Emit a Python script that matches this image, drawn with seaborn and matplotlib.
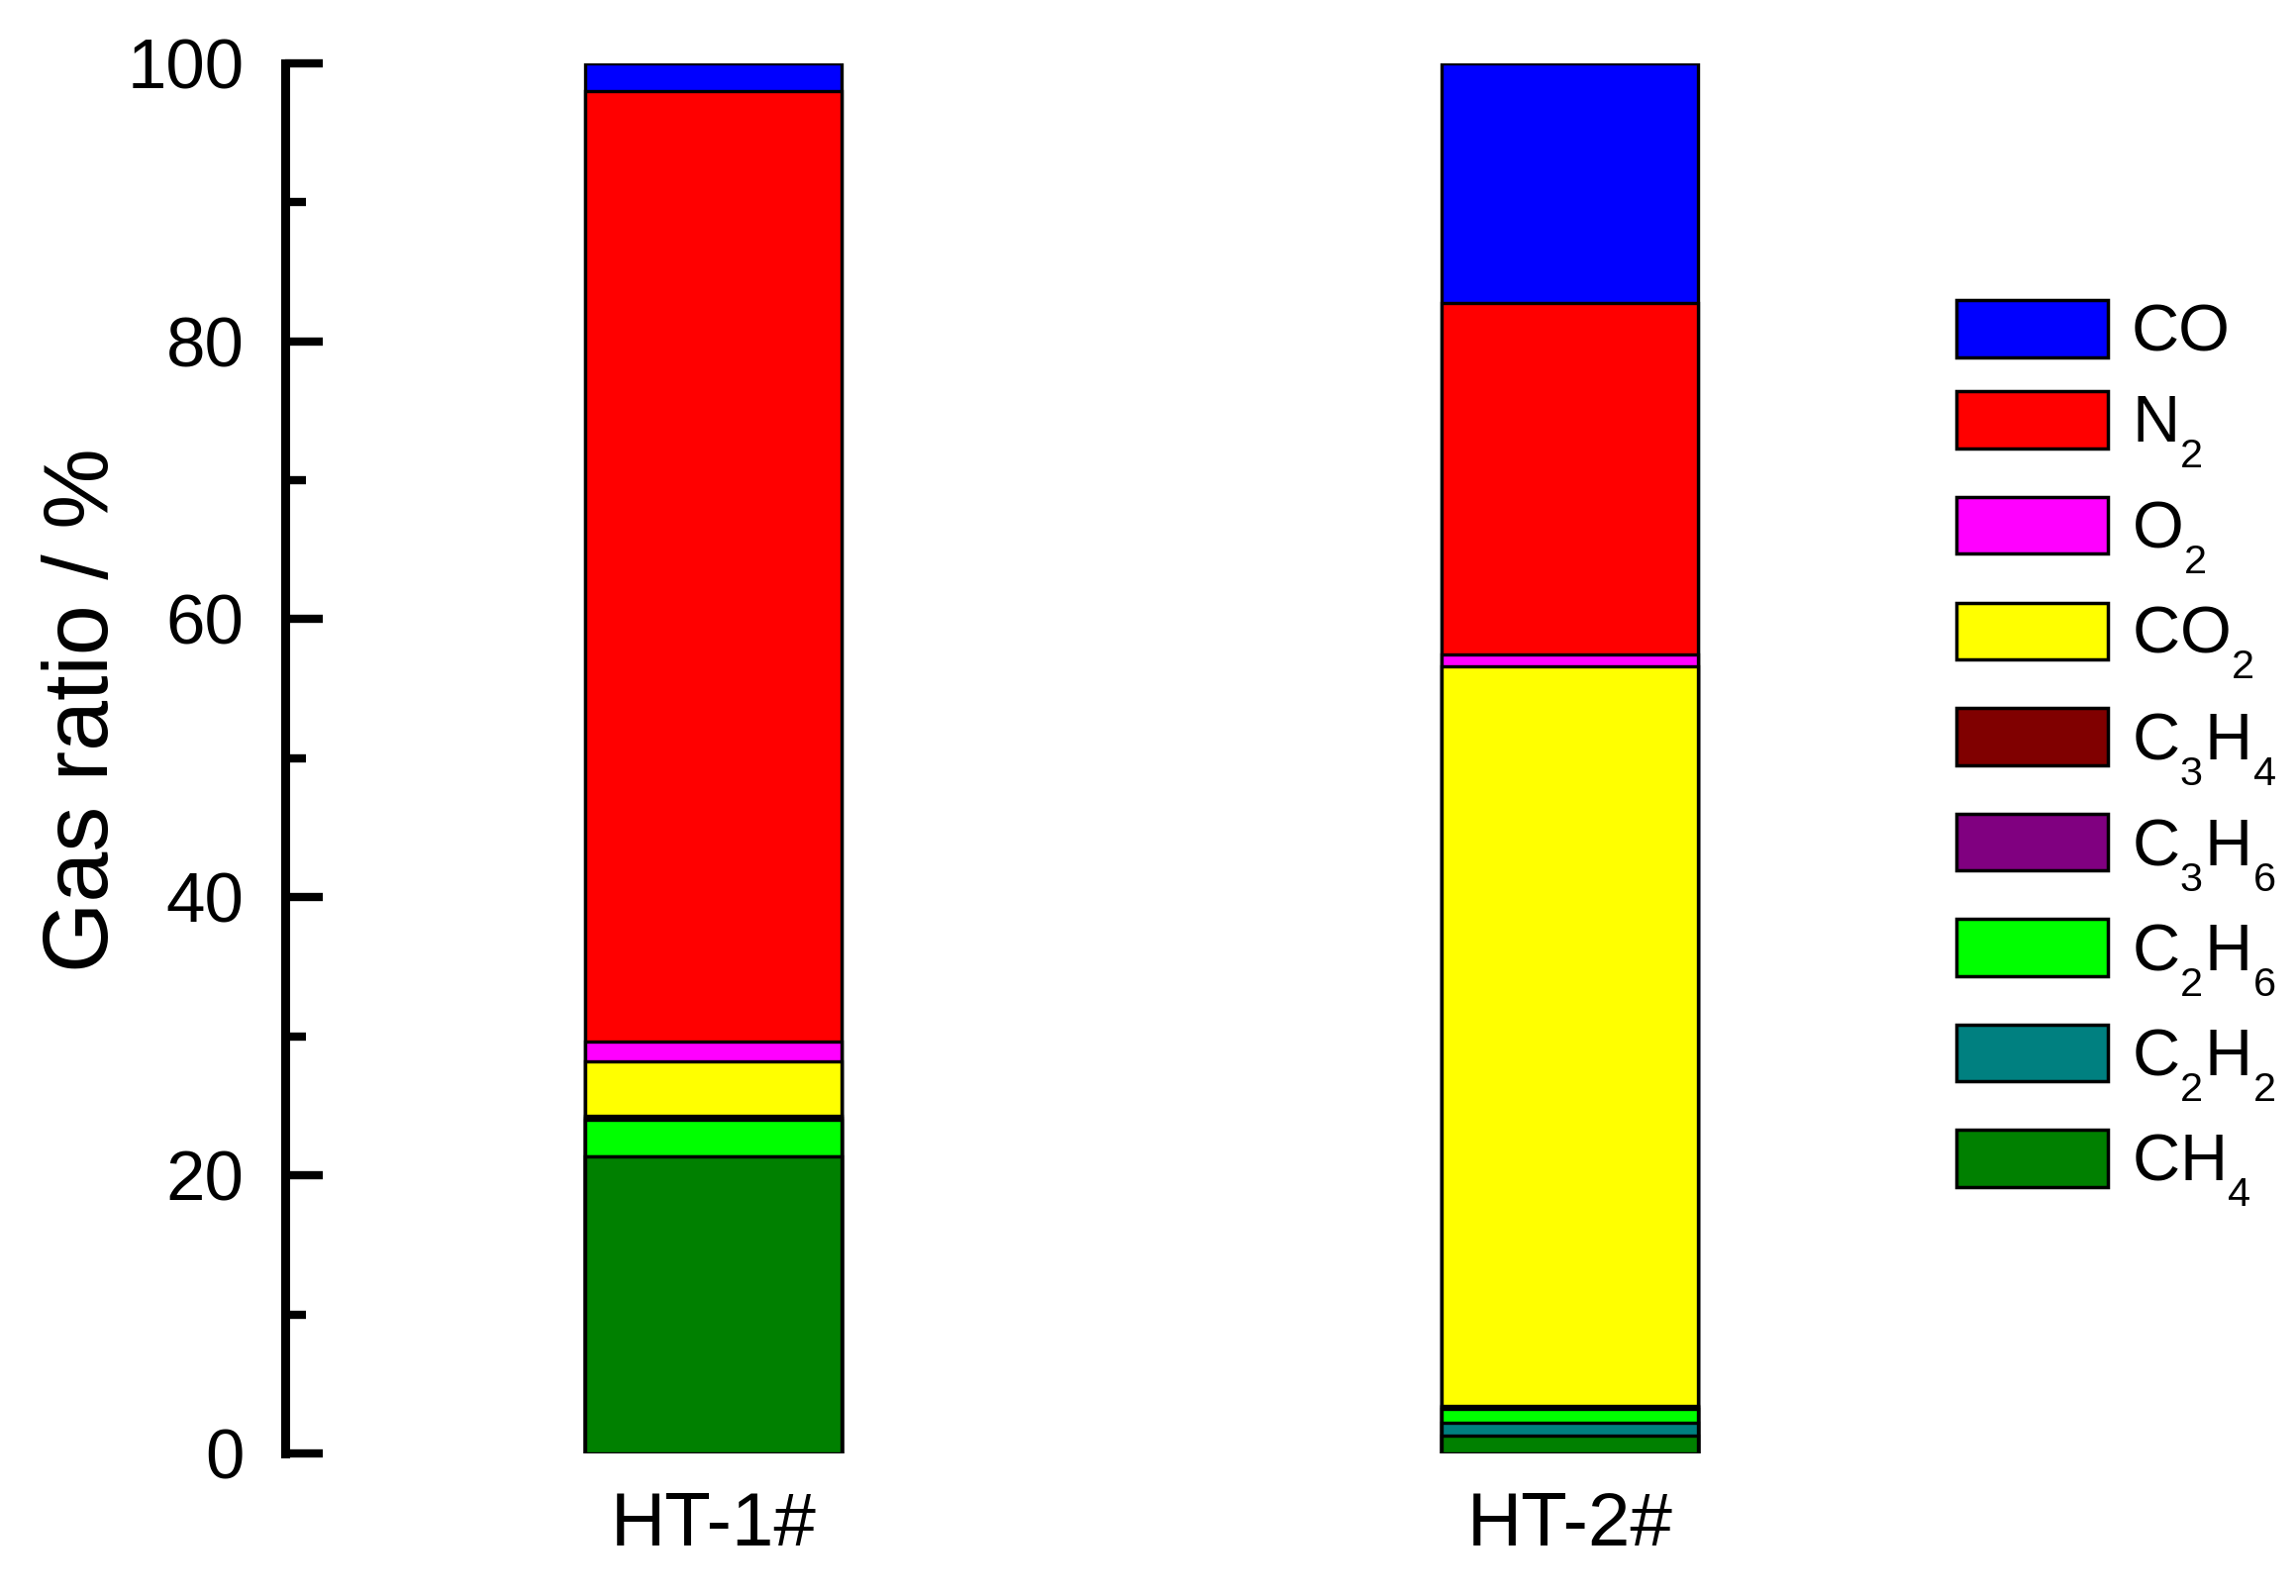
import pandas as pd
import matplotlib
matplotlib.use("Agg")
import matplotlib.pyplot as plt
import matplotlib._mathtext as mathtext_internal
from matplotlib.patches import Patch
from matplotlib.ticker import MultipleLocator
import seaborn as sns

# --- data (% of total gas) ---
samples = ["HT-1#", "HT-2#"]
gases = ["CO", "N2", "O2", "CO2", "C3H4", "C3H6", "C2H6", "C2H2", "CH4"]
gas_labels = ["CO", "$N_2$", "$O_2$", "$CO_2$", "$C_3H_4$", "$C_3H_6$",
              "$C_2H_6$", "$C_2H_2$", "$CH_4$"]
gas_colors = ["#0000FF", "#FF0000", "#FF00FF", "#FFFF00", "#800000",
              "#800080", "#00FF00", "#008080", "#008000"]
ht1 = [2.0, 68.4, 1.4, 3.9, 0.15, 0.15, 2.6, 0.0, 21.4]
ht2 = [17.26, 25.3, 0.8, 53.2, 0.12, 0.12, 1.0, 0.92, 1.28]

rows = []
for s, vals in zip(samples, [ht1, ht2]):
    for g, v in zip(gases, vals):
        rows.append({"sample": s, "gas": g, "ratio": v})
df = pd.DataFrame(rows)

# --- style ---
sns.set_style("ticks")
plt.rcParams["font.family"] = ["Liberation Sans", "DejaVu Sans"]
plt.rcParams["mathtext.fontset"] = "custom"
plt.rcParams["mathtext.rm"] = "Liberation Sans"
plt.rcParams["mathtext.default"] = "regular"
for key in ["text.color", "axes.labelcolor", "xtick.color", "ytick.color", "axes.edgecolor"]:
    plt.rcParams[key] = "black"
# Origin-like subscripts: smaller and dropped lower
mathtext_internal.SHRINK_FACTOR = 0.62
mathtext_internal.FontConstantsBase.sub1 = 0.75

fig = plt.figure(figsize=(23.19, 16.12), dpi=100)
fig.patch.set_facecolor("white")
ax = fig.add_axes([0.1242, 0.0893, 0.695, 0.8712])
ax.set_facecolor("white")

# stack bottom to top: CH4 ... CO  (cumulative bars, tallest drawn first)
order = gases[::-1]
cum = df.pivot(index="sample", columns="gas", values="ratio")[order].cumsum(axis=1)
for g in gases:
    part = cum[g].reset_index()
    part.columns = ["sample", "top"]
    sns.barplot(data=part, x="sample", y="top", order=samples,
                color=gas_colors[gases.index(g)], saturation=1, width=0.3,
                edgecolor="black", linewidth=2.4, ax=ax)

ax.set_xlim(-0.5, 1.363)
ax.set_ylim(0, 100)
ax.yaxis.set_major_locator(MultipleLocator(20))
ax.yaxis.set_minor_locator(MultipleLocator(10))

for side in ["top", "right", "bottom"]:
    ax.spines[side].set_visible(False)
ax.spines["left"].set_linewidth(6.5)

ax.tick_params(axis="y", which="major", direction="in", length=27, width=6,
               labelsize=51, pad=30)
ax.tick_params(axis="y", which="minor", direction="in", length=15, width=6)
ax.tick_params(axis="x", length=0, labelsize=55, pad=27)
ax.set_xlabel("")
ax.set_ylabel("Gas ratio / %", fontsize=66)
ax.yaxis.set_label_coords(-0.099, 0.535)

handles = [Patch(facecolor=c, edgecolor="black", linewidth=2.5) for c in gas_colors]
fig.legend(handles, gas_labels, loc="upper left", bbox_to_anchor=(0.852, 0.812),
           frameon=False, fontsize=48, handlelength=2.3, handleheight=0.95,
           handletextpad=0.36, labelspacing=0.40, borderpad=0, borderaxespad=0)

fig.savefig("out.png", dpi=100, facecolor="white")
